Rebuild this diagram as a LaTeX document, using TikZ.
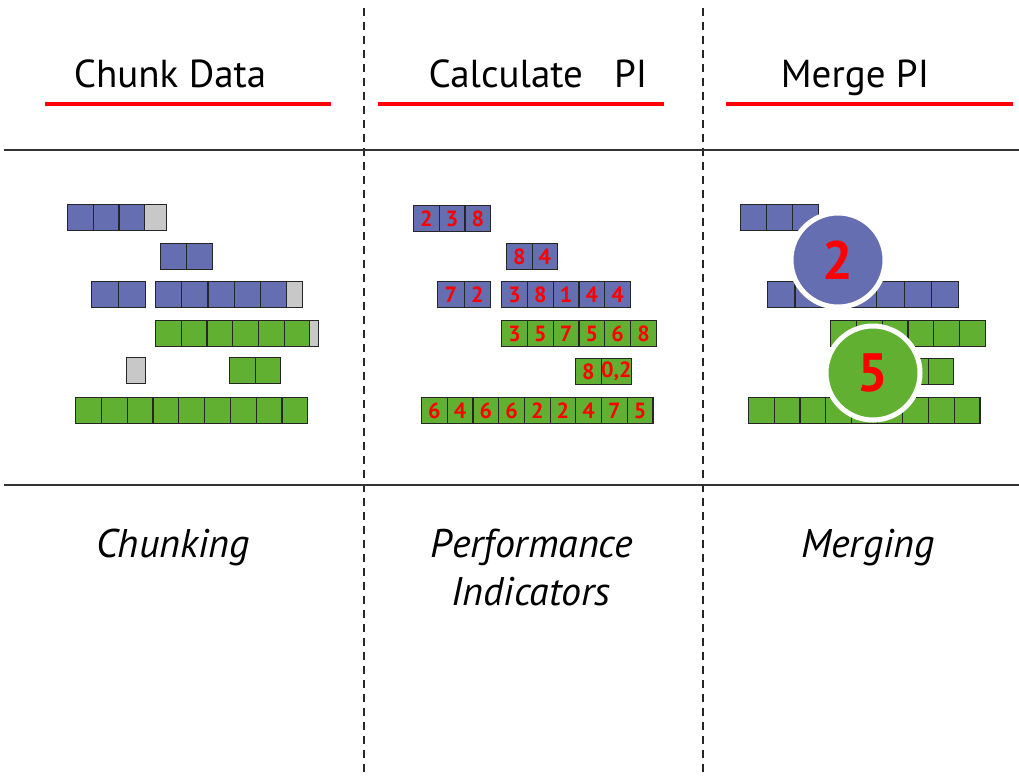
\documentclass[tikz,border=0pt]{standalone}
\usepackage{fontspec}
\setmainfont{PT Sans}
\setsansfont{PT Sans}
\definecolor{blk}{RGB}{100,110,176}
\definecolor{grn}{RGB}{98,176,50}
\definecolor{gry}{RGB}{200,200,200}
\definecolor{pired}{RGB}{255,0,0}
\tikzset{
  cell/.style={draw=black!85, line width=1.2pt, minimum height=26pt, inner sep=0pt,
    anchor=north west, font=\fontsize{22}{22}\selectfont\bfseries, text=pired},
  bluecell/.style={cell, fill=blk},
  greencell/.style={cell, fill=grn},
  graycell/.style={cell, fill=gry},
  title/.style={font=\fontsize{39}{39}\selectfont, anchor=base},
  caption/.style={font=\fontsize{40}{40}\selectfont\itshape, anchor=base},
  redrule/.style={draw=pired, line width=3.5pt},
  band/.style={draw=black!80, line width=1.6pt},
  divider/.style={draw=black!85, line width=1.2pt, dash pattern=on 8pt off 6pt},
  pi/.style={circle, minimum size=94pt, inner sep=0pt, draw=white, line width=5pt,
    font=\fontsize{54}{54}\selectfont\bfseries, text=pired}
}
% a row of equal cells: style, left x, top y, cell width, labels
\newcommand\cellrow[5]{%
  \foreach \t [count=\i from 0] in {#5} {
    \node[#1, minimum width=#4pt] (c-#2-#3-\i) at ({#2+\i*#4},#3) {\t};
  }}
\begin{document}
\begin{tikzpicture}[x=1pt,y=-1pt]
\useasboundingbox (0,0) rectangle (1019,777);

% column dividers and bands
\coordinate (d1t) at (364,8);   \coordinate (d1b) at (364,777);
\coordinate (d2t) at (703,8);   \coordinate (d2b) at (703,777);
\draw[divider] (d1t) -- (d1b);
\draw[divider] (d2t) -- (d2b);
\coordinate (b1l) at (4,150);   \coordinate (b1r) at (1019,150);
\coordinate (b2l) at (4,485);   \coordinate (b2r) at (1019,485);
\draw[band] (b1l) -- (b1r);
\draw[band] (b2l) -- (b2r);

% headings
\node[title] (h1) at (170,87) {Chunk Data};
\node[title] (h2) at (538,87) {Calculate\ \ \ PI};
\node[title] (h3) at (855,87) {Merge PI};
\coordinate (r1a) at (45,104);  \coordinate (r1b) at (331,104);
\coordinate (r2a) at (378,104); \coordinate (r2b) at (664,104);
\coordinate (r3a) at (726,104); \coordinate (r3b) at (1013,104);
\draw[redrule] (r1a) -- (r1b);
\draw[redrule] (r2a) -- (r2b);
\draw[redrule] (r3a) -- (r3b);

% captions
\node[caption] (t1) at (173,557) {Chunking};
\node[caption] (t2) at (532,557) {Performance};
\node[caption] (t3) at (531,605) {Indicators};
\node[caption] (t4) at (868,557) {Merging};

% chunking
\cellrow{bluecell}{67}{204}{25.7}{{},{},{}}
\cellrow{graycell}{144}{204}{22}{{}}
\cellrow{bluecell}{160}{243}{26}{{},{}}
\cellrow{bluecell}{91}{281}{27}{{},{}}
\cellrow{bluecell}{155}{281}{26.2}{{},{},{},{},{}}
\cellrow{graycell}{286}{281}{16}{{}}
\cellrow{greencell}{155}{320}{25.7}{{},{},{},{},{},{}}
\cellrow{graycell}{309}{320}{9}{{}}
\cellrow{graycell}{126}{357}{19}{{}}
\cellrow{greencell}{229}{357}{25.5}{{},{}}
\cellrow{greencell}{75}{397}{25.8}{{},{},{},{},{},{},{},{},{}}

% performance indicators
\cellrow{bluecell}{413}{205}{25.7}{2,3,8}
\cellrow{bluecell}{506}{243}{25.5}{8,4}
\cellrow{bluecell}{437}{281}{26.5}{7,2}
\cellrow{bluecell}{501}{281}{25.8}{3,8,1,4,4}
\cellrow{greencell}{501}{320}{25.8}{3,5,7,5,6,8}
\cellrow{greencell}{575}{358}{25.5}{8,{0,2}}
\cellrow{greencell}{421}{397}{25.7}{6,4,6,6,2,2,4,7,5}

% merging
\cellrow{bluecell}{740}{204}{26}{{},{},{}}
\cellrow{bluecell}{767}{281}{27.3}{{},{},{},{},{},{},{}}
\cellrow{greencell}{830}{320}{25.8}{{},{},{},{},{},{}}
\cellrow{greencell}{902}{358}{25.5}{{},{}}
\cellrow{greencell}{748}{397}{25.7}{{},{},{},{},{},{},{},{},{}}
\node[pi, fill=blk] (m2) at (838,260) {2};
\node[pi, fill=grn] (m5) at (873,373) {5};
\end{tikzpicture}
\end{document}
